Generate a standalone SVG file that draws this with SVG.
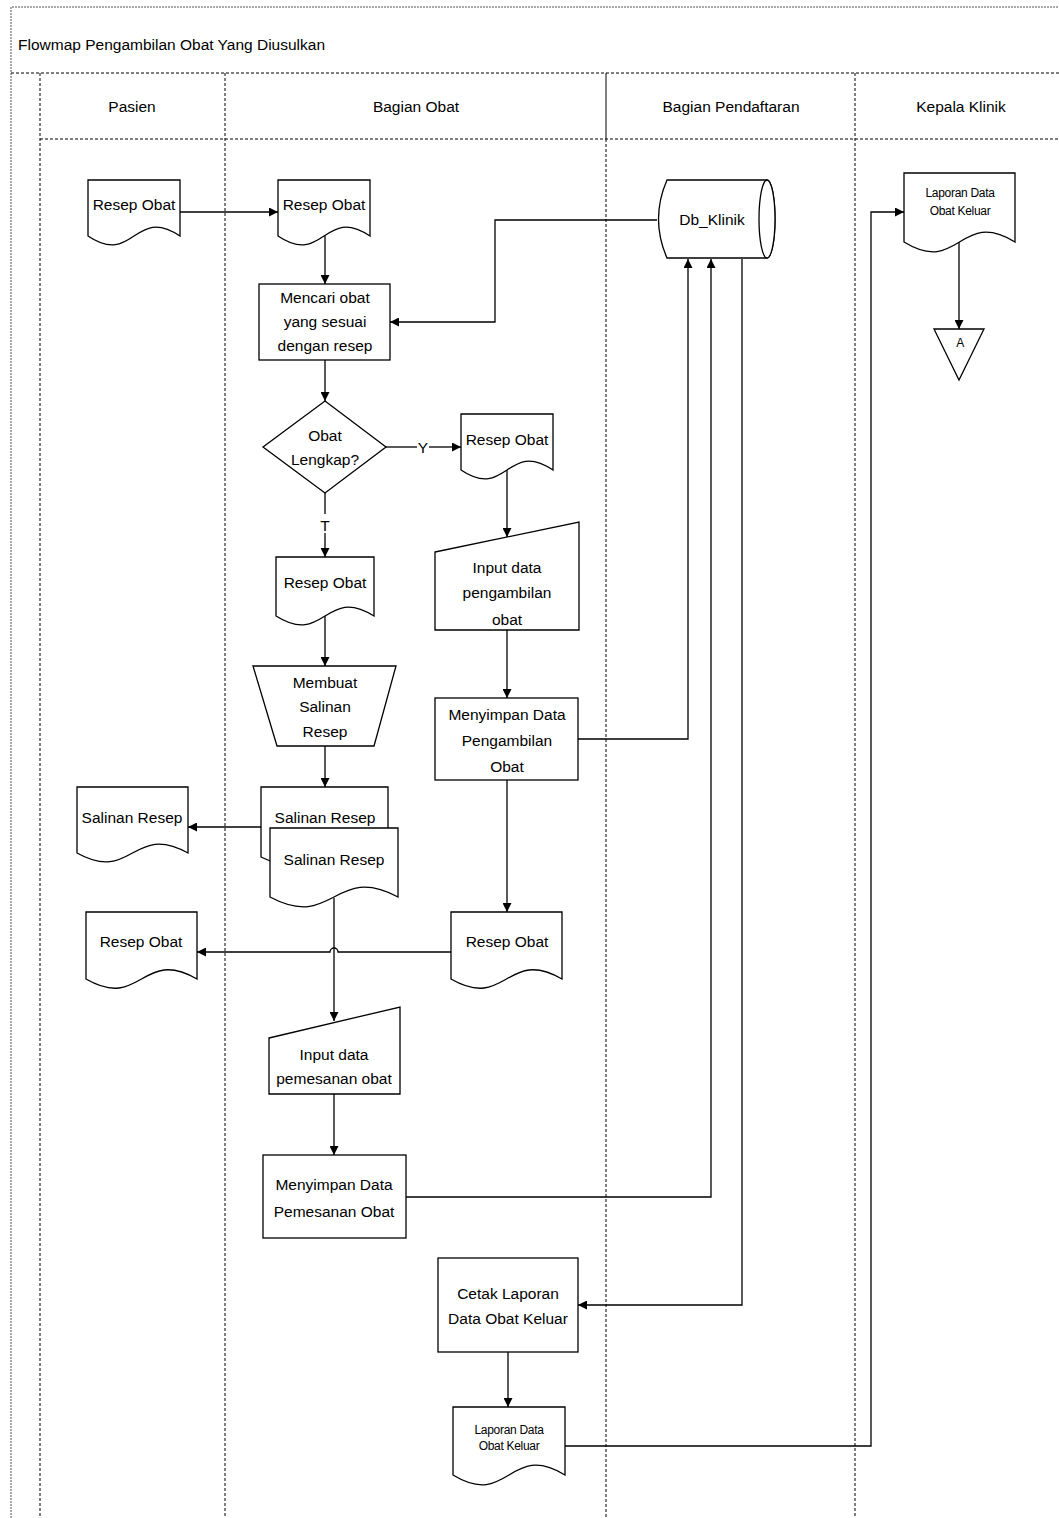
<svg xmlns="http://www.w3.org/2000/svg" width="1059" height="1518" viewBox="0 0 1059 1518">
<style>
.frame{fill:none;stroke:#555;stroke-width:1;stroke-dasharray:2,1}
.lane{fill:none;stroke:#000;stroke-width:1;stroke-dasharray:3,2}
.shape{fill:#fff;stroke:#000;stroke-width:1.3}
.conn{fill:none;stroke:#000;stroke-width:1.3}
.t{font-family:"Liberation Sans",Arial,sans-serif;font-size:15.5px;fill:#000;text-anchor:middle}
.h{font-family:"Liberation Sans",Arial,sans-serif;font-size:15.5px;fill:#000;text-anchor:middle}
.s{font-family:"Liberation Sans",Arial,sans-serif;font-size:12px;fill:#000;text-anchor:middle;letter-spacing:-0.3px}
</style>
<defs>
<marker id="arr" viewBox="0 0 10 10" refX="10" refY="5" markerWidth="9" markerHeight="9" markerUnits="userSpaceOnUse" orient="auto">
<path d="M0,0 L10,5 L0,10 Z" fill="#000"/>
</marker>
</defs>
<rect width="1059" height="1518" fill="#fff"/>
<g id="swimlanes">
<path class="frame" d="M11,1518 V7 H1059"/>
<path class="lane" d="M11,73 H1059"/>
<path class="lane" d="M40,139 H1059"/>
<path class="lane" d="M40,73 V1518"/>
<path class="lane" d="M225,73 V1518"/>
<path class="conn" d="M606,73 V139" style="stroke-width:1"/>
<path class="lane" d="M606,139 V1518"/>
<path class="lane" d="M855,73 V1518"/>
<text x="18" y="50" font-family="Liberation Sans, Arial, sans-serif" font-size="15.5" fill="#000">Flowmap Pengambilan Obat Yang Diusulkan</text>
<text class="h" x="132" y="112">Pasien</text>
<text class="h" x="416" y="112">Bagian Obat</text>
<text class="h" x="731" y="112">Bagian Pendaftaran</text>
<text class="h" x="961" y="112">Kepala Klinik</text>
</g>
<g id="connectors">
<path class="conn" d="M180,212 H278" marker-end="url(#arr)"/>
<path class="conn" d="M325,236 V284" marker-end="url(#arr)"/>
<path class="conn" d="M657,220 H495 V322 H390" marker-end="url(#arr)"/>
<path class="conn" d="M325,360 V401" marker-end="url(#arr)"/>
<path class="conn" d="M386,447 H417"/>
<path class="conn" d="M429,447 H461" marker-end="url(#arr)"/>
<text class="t" x="423" y="453">Y</text>
<path class="conn" d="M325,493 V514"/>
<path class="conn" d="M325,533 V557" marker-end="url(#arr)"/>
<text class="t" x="325" y="531">T</text>
<path class="conn" d="M507,470 V537" marker-end="url(#arr)"/>
<path class="conn" d="M325,616 V666" marker-end="url(#arr)"/>
<path class="conn" d="M507,630 V698" marker-end="url(#arr)"/>
<path class="conn" d="M578,739 H688 V259" marker-end="url(#arr)"/>
<path class="conn" d="M325,746 V787" marker-end="url(#arr)"/>
<path class="conn" d="M261,827 H188" marker-end="url(#arr)"/>
<path class="conn" d="M507,780 V912" marker-end="url(#arr)"/>
<path class="conn" d="M451,952 H338 A4,4 0 0 0 330,952 H197" marker-end="url(#arr)"/>
<path class="conn" d="M334,898 V1021" marker-end="url(#arr)"/>
<path class="conn" d="M334,1094 V1155" marker-end="url(#arr)"/>
<path class="conn" d="M406,1197 H711 V259" marker-end="url(#arr)"/>
<path class="conn" d="M742,259 V1305 H578" marker-end="url(#arr)"/>
<path class="conn" d="M508,1352 V1407" marker-end="url(#arr)"/>
<path class="conn" d="M565,1446 H871 V212 H904" marker-end="url(#arr)"/>
<path class="conn" d="M959,242 V329" marker-end="url(#arr)"/>
</g>
<g id="resep-obat-pasien">
<path class="shape" d="M88,180 H180 V236 C134,205 134,267 88,236 Z"/>
<text class="t" x="134" y="210">Resep Obat</text>
</g>
<g id="resep-obat-1">
<path class="shape" d="M278,180 H370 V236 C324,205 324,267 278,236 Z"/>
<text class="t" x="324" y="210">Resep Obat</text>
</g>
<g id="mencari-obat">
<rect class="shape" x="259" y="284" width="131" height="76"/>
<text class="t" x="325" y="303">Mencari obat</text>
<text class="t" x="325" y="327">yang sesuai</text>
<text class="t" x="325" y="351">dengan resep</text>
</g>
<g id="obat-lengkap">
<path class="shape" d="M325,401 L386,447 L325,493 L263,447 Z"/>
<text class="t" x="325" y="441">Obat</text>
<text class="t" x="325" y="465">Lengkap?</text>
</g>
<g id="resep-obat-y">
<path class="shape" d="M461,414 H553 V470 C507,439 507,501 461,470 Z"/>
<text class="t" x="507" y="445">Resep Obat</text>
</g>
<g id="resep-obat-t">
<path class="shape" d="M276,557 H374 V616 C325,585 325,647 276,616 Z"/>
<text class="t" x="325" y="588">Resep Obat</text>
</g>
<g id="input-pengambilan">
<path class="shape" d="M435,552 L579,522 V630 H435 Z"/>
<text class="t" x="507" y="573">Input data</text>
<text class="t" x="507" y="598">pengambilan</text>
<text class="t" x="507" y="625">obat</text>
</g>
<g id="membuat-salinan">
<path class="shape" d="M253,666 H396 L374,746 H277 Z"/>
<text class="t" x="325" y="688">Membuat</text>
<text class="t" x="325" y="712">Salinan</text>
<text class="t" x="325" y="737">Resep</text>
</g>
<g id="menyimpan-pengambilan">
<rect class="shape" x="435" y="698" width="143" height="82"/>
<text class="t" x="507" y="720">Menyimpan Data</text>
<text class="t" x="507" y="746">Pengambilan</text>
<text class="t" x="507" y="772">Obat</text>
</g>
<g id="salinan-resep-pasien">
<path class="shape" d="M77,787 H188 V853 C132.5,822 132.5,884 77,853 Z"/>
<text class="t" x="132" y="823">Salinan Resep</text>
</g>
<g id="salinan-resep-multi">
<path class="shape" d="M261,787 H388 V857 C324.5,826 324.5,888 261,857 Z"/>
<text class="t" x="325" y="823">Salinan Resep</text>
<path class="shape" d="M270,828 H398 V897 C334,863 334,931 270,897 Z"/>
<text class="t" x="334" y="865">Salinan Resep</text>
</g>
<g id="resep-obat-pasien-2">
<path class="shape" d="M86,912 H197 V979 C141.5,947 141.5,1011 86,979 Z"/>
<text class="t" x="141" y="947">Resep Obat</text>
</g>
<g id="resep-obat-2">
<path class="shape" d="M451,912 H562 V979 C506.5,947 506.5,1011 451,979 Z"/>
<text class="t" x="507" y="947">Resep Obat</text>
</g>
<g id="input-pemesanan">
<path class="shape" d="M269,1038 L400,1007 V1094 H269 Z"/>
<text class="t" x="334" y="1060">Input data</text>
<text class="t" x="334" y="1084">pemesanan obat</text>
</g>
<g id="menyimpan-pemesanan">
<rect class="shape" x="263" y="1155" width="143" height="83"/>
<text class="t" x="334" y="1190">Menyimpan Data</text>
<text class="t" x="334" y="1217">Pemesanan Obat</text>
</g>
<g id="db-klinik">
<path class="shape" d="M667,180 H767 A8,39 0 0 1 767,258 H667 Q650,219 667,180 Z"/>
<ellipse class="shape" cx="767" cy="219" rx="8" ry="39"/>
<text class="t" x="712" y="225">Db_Klinik</text>
</g>
<g id="cetak-laporan">
<rect class="shape" x="438" y="1258" width="140" height="94"/>
<text class="t" x="508" y="1299">Cetak Laporan</text>
<text class="t" x="508" y="1324">Data Obat Keluar</text>
</g>
<g id="laporan-bottom">
<path class="shape" d="M453,1407 H565 V1475 C509,1441 509,1509 453,1475 Z"/>
<text class="s" x="509" y="1434">Laporan Data</text>
<text class="s" x="509" y="1450">Obat Keluar</text>
</g>
<g id="laporan-kepala">
<path class="shape" d="M904,173 H1015 V242 C959.5,208 959.5,276 904,242 Z"/>
<text class="s" x="960" y="197">Laporan Data</text>
<text class="s" x="960" y="215">Obat Keluar</text>
</g>
<g id="connector-a">
<path class="shape" d="M934,329 H984 L959,380 Z"/>
<text class="s" x="960" y="347">A</text>
</g>
</svg>
